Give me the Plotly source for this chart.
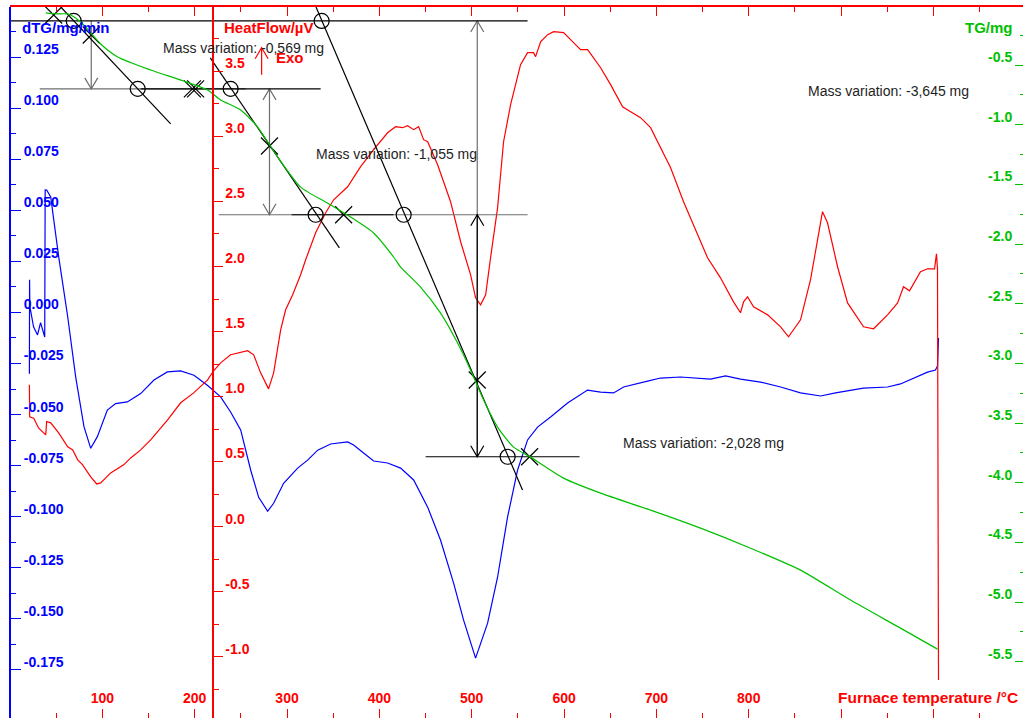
import plotly.graph_objects as go

FONT = "Liberation Sans, Arial, sans-serif"
RED, BLUE, GREEN = "#ff0000", "#0000ff", "#00c000"
INK, GREY = "#000000", "#6e6e6e"

# ---- figure geometry -------------------------------------------------------
FIG_W, FIG_H = 1023, 718
MARGIN = dict(l=10, r=0, t=7, b=0)
PLOT_W = FIG_W - MARGIN["l"] - MARGIN["r"]
PLOT_H = FIG_H - MARGIN["t"] - MARGIN["b"]

T_RANGE = [0, 1097]
DTG_RANGE = [-0.1985, 0.1495]
HF_RANGE = [-1.4715, 3.995]
TG_RANGE = [-5.972, -0.014]

# ---- measured curves -------------------------------------------------------
# derivative of mass, mg/min
dtg_T = [21.0, 21.2, 21.5, 25.5, 29.8, 33.1, 35.3, 37.6, 38.1, 39.7, 44.1, 52.7, 62.5, 71.1, 80.1, 87.4,
         94.6, 105.4, 114.4, 127.0, 141.5, 155.9, 170.4, 184.8, 199.2, 213.7, 228.1, 238.9, 249.8, 260.6,
         269.3, 279.0, 285.5, 296.3, 311.5, 322.3, 333.2, 347.2, 365.6, 372.1, 382.9, 393.8, 408.9, 423.0,
         437.1, 452.3, 466.3, 480.4, 491.2, 504.2, 517.2, 528.0, 538.8, 549.7, 560.5, 571.3, 585.4, 603.8,
         625.4, 639.6, 653.6, 664.5, 690.4, 704.5, 726.2, 758.6, 774.9, 791.1, 812.8, 834.5, 856.1, 877.8,
         894.0, 910.2, 924.3, 950.3, 964.3, 993.6, 1002.2, 1004.4, 1005.5]
dtg = [-0.030, 0.016, 0.003, -0.007, -0.011, -0.005, -0.009, -0.012, 0.060, 0.0599, 0.0565, 0.0273,
       -0.0021, -0.0315, -0.0559, -0.0665, -0.0608, -0.0478, -0.0446, -0.0438, -0.0397, -0.0331, -0.0291,
       -0.0286, -0.0307, -0.0356, -0.0413, -0.0487, -0.0575, -0.0771, -0.0905, -0.0973, -0.0934, -0.0836,
       -0.0762, -0.0723, -0.0674, -0.0644, -0.0634, -0.0649, -0.0688, -0.0727, -0.0737, -0.0762, -0.0820,
       -0.0953, -0.1115, -0.1325, -0.1506, -0.1692, -0.1521, -0.1296, -0.1002, -0.0771, -0.0624, -0.0561,
       -0.0512, -0.0443, -0.0380, -0.0390, -0.0394, -0.0365, -0.0336, -0.0321, -0.0316, -0.0326, -0.0311,
       -0.0326, -0.0341, -0.0365, -0.0394, -0.0409, -0.0394, -0.0380, -0.0370, -0.0365, -0.0350, -0.0292,
       -0.0282, -0.0262, -0.0125]

# heat flow, µV
hf_T = [21.0, 21.3, 25.7, 31.1, 38.7, 39.7, 44.1, 52.7, 62.5, 67.9, 73.3, 78.7, 87.4, 93.9, 98.2, 109.0,
        123.1, 130.7, 141.5, 152.3, 170.7, 184.8, 198.9, 214.0, 220.5, 228.1, 238.9, 257.4, 263.9, 271.4,
        280.0, 285.5, 293.1, 298.5, 306.1, 314.7, 320.2, 331.0, 341.8, 350.5, 365.6, 379.7, 393.8, 408.9,
        417.6, 425.2, 430.6, 437.1, 442.5, 447.9, 452.3, 463.1, 477.1, 488.0, 498.8, 504.2, 509.6, 515.1,
        520.4, 528.0, 534.5, 542.1, 552.9, 560.5, 567.0, 569.2, 574.6, 582.2, 588.7, 599.5, 610.3, 617.9,
        625.5, 639.6, 650.4, 663.4, 672.1, 682.9, 693.7, 704.5, 715.4, 729.4, 744.6, 755.4, 769.4, 783.5,
        791.1, 794.4, 798.7, 805.2, 820.4, 834.5, 843.1, 856.1, 866.9, 874.5, 879.9, 885.3, 896.2, 907.0,
        917.8, 924.3, 935.2, 950.3, 961.2, 967.6, 974.1, 986.0, 993.6, 1001.2, 1003.3, 1004.4, 1005.5]
hf = [1.09, 0.844, 0.834, 0.757, 0.705, 0.808, 0.798, 0.72, 0.613, 0.59, 0.513, 0.475, 0.383, 0.328,
      0.336, 0.413, 0.475, 0.528, 0.59, 0.667, 0.821, 0.952, 1.028, 1.128, 1.198, 1.259, 1.321, 1.352,
      1.321, 1.182, 1.059, 1.182, 1.513, 1.667, 1.782, 1.936, 2.052, 2.259, 2.413, 2.513, 2.613, 2.767,
      2.898, 3.028, 3.075, 3.067, 3.082, 3.052, 3.075, 2.975, 2.959, 2.782, 2.498, 2.19, 1.936, 1.759,
      1.705, 1.782, 2.067, 2.45, 2.959, 3.244, 3.552, 3.644, 3.644, 3.613, 3.728, 3.782, 3.805, 3.798,
      3.721, 3.667, 3.667, 3.528, 3.398, 3.228, 3.19, 3.144, 3.067, 2.913, 2.759, 2.498, 2.244, 2.067,
      1.913, 1.728, 1.644, 1.728, 1.767, 1.69, 1.628, 1.536, 1.459, 1.59, 1.898, 2.205, 2.421, 2.336,
      1.998, 1.72, 1.605, 1.536, 1.521, 1.628, 1.72, 1.844, 1.813, 1.959, 1.982, 1.982, 2.098, 1.982,
      -1.179]

# mass, mg
tg_T = [38.7, 49.5, 62.5, 71.1, 79.8, 98.2, 116.6, 152.3, 188.1, 214.0, 228.1, 249.8, 268.2, 289.8,
        314.7, 343.8, 368.8, 393.8, 415.4, 423.0, 444.6, 466.3, 484.7, 498.8, 512.9, 528.0, 545.3, 563.7,
        599.5, 639.6, 693.7, 747.8, 802.0, 856.1, 910.2, 964.3, 1004.4]
tg = [-0.064, -0.072, -0.072, -0.106, -0.165, -0.324, -0.433, -0.542, -0.634, -0.71, -0.793, -0.877,
      -1.02, -1.271, -1.523, -1.657, -1.774, -1.908, -2.109, -2.193, -2.361, -2.579, -2.83, -3.057,
      -3.308, -3.534, -3.702, -3.786, -3.962, -4.088, -4.23, -4.381, -4.549, -4.733, -4.984, -5.219,
      -5.395]

# ---- step analysis of the TG curve ------------------------------------------
mass_variation = [-0.569, -1.055, -2.028]
mass_variation_total = -3.645
tg_plateau_start = -0.131
plateaus = [tg_plateau_start]
for dm in mass_variation:
    plateaus.append(plateaus[-1] + dm)

inflection_T = [88.0, 281.0, 506.0]
inflection_TG = [-0.249, -1.179, -3.140]

tangent_T0 = [55.0, 216.9, 331.4]
tangent_TG0 = [-0.014, -0.441, -0.014]
tangent_T1 = [174.0, 356.7, 555.0]
tangent_TG1 = [-0.994, -2.033, -4.061]

baseline_level = [0, 1, 1, 2, 2, 3]
baseline_T0 = [0.0, 32.2, 141.5, 226.0, 305.0, 450.1]
baseline_T1 = [560.5, 255.2, 336.4, 560.5, 415.4, 616.8]
baseline_dark = [True, False, True, False, True, True]

onset_T = [69.0, 138.3, 238.9, 331.0, 337.5, 426.3, 538.9]
onset_level = [0, 1, 1, 2, 0, 2, 3]

limit_T = [47.3, 197.5, 201.0, 361.3, 562.7]
limit_TG = [-0.081, plateaus[1], plateaus[1], plateaus[2], plateaus[3]]

label_T = [163.0, 328.8, 661.2, 861.5]
label_TG = [-0.358, -1.246, -3.667, -0.718]
label_mass = mass_variation + [mass_variation_total]

# ---- axis ticks ---------------------------------------------------------------
t_ticks = [0, 100, 200, 300, 400, 500, 600, 700, 800, 900, 1000]
t_tick_text = ["", "100", "200", "300", "400", "500", "600", "700", "800", "", ""]
dtg_ticks = [0.125, 0.100, 0.075, 0.050, 0.025, 0.0, -0.025, -0.050, -0.075, -0.100, -0.125, -0.150, -0.175]
hf_ticks = [3.5, 3.0, 2.5, 2.0, 1.5, 1.0, 0.5, 0.0, -0.5, -1.0]
tg_ticks = [-0.5, -1.0, -1.5, -2.0, -2.5, -3.0, -3.5, -4.0, -4.5, -5.0, -5.5]

# pixel scales, used to size arrow heads
KX = PLOT_W / (T_RANGE[1] - T_RANGE[0])
K_TG = PLOT_H / (TG_RANGE[1] - TG_RANGE[0])
K_HF = PLOT_H / (HF_RANGE[1] - HF_RANGE[0])
HEAD_W, HEAD_H = 6.5, 11.0


def chevron(x, y, up, ky):
    dx, dy = HEAD_W / KX, HEAD_H / ky
    wing = y - dy if up else y + dy
    return [x - dx, x, x + dx, None], [wing, y, wing, None]


def fmt_mass(v):
    return f"Mass variation: {v:.3f} mg".replace(".", ",")


fig = go.Figure()

# step construction: plateaus, tangents, arrows
dark_x, dark_y, grey_x, grey_y = [], [], [], []
for lvl, t0, t1, dark in zip(baseline_level, baseline_T0, baseline_T1, baseline_dark):
    xs, ys = (dark_x, dark_y) if dark else (grey_x, grey_y)
    xs += [t0, t1, None]
    ys += [plateaus[lvl], plateaus[lvl], None]
for t0, g0, t1, g1 in zip(tangent_T0, tangent_TG0, tangent_T1, tangent_TG1):
    dark_x += [t0, t1, None]
    dark_y += [g0, g1, None]

arrows = [  # (T, from level, to level, head at start, head at end, dark)
    (inflection_T[0], 0, 1, False, True, False),
    (inflection_T[1], 1, 2, True, True, False),
    (inflection_T[2], 3, 0, False, True, False),
    (inflection_T[2], 2, 3, True, True, True),
]
for t, a, b, h0, h1, dark in arrows:
    xs, ys = (dark_x, dark_y) if dark else (grey_x, grey_y)
    ya, yb = plateaus[a], plateaus[b]
    xs += [t, t, None]
    ys += [ya, yb, None]
    for flag, y, other in ((h0, ya, yb), (h1, yb, ya)):
        if flag:
            cx, cy = chevron(t, y, y > other, K_TG)
            xs += cx
            ys += cy

fig.add_trace(go.Scatter(x=grey_x, y=grey_y, yaxis="y3", mode="lines",
                         line=dict(color=GREY, width=1.2), hoverinfo="skip"))
fig.add_trace(go.Scatter(x=dark_x, y=dark_y, yaxis="y3", mode="lines",
                         line=dict(color=INK, width=1.2), hoverinfo="skip"))

fig.add_trace(go.Scatter(x=onset_T, y=[plateaus[i] for i in onset_level], yaxis="y3", mode="markers",
                         marker=dict(symbol="circle-open", size=15, color=INK, line=dict(width=1.2)),
                         hoverinfo="skip"))
fig.add_trace(go.Scatter(x=limit_T + inflection_T, y=limit_TG + inflection_TG, yaxis="y3", mode="markers",
                         marker=dict(symbol="x-thin-open", size=17, color=INK, line=dict(width=1.2, color=INK)),
                         hoverinfo="skip"))

# curves
fig.add_trace(go.Scatter(x=tg_T, y=tg, yaxis="y3", mode="lines", name="TG",
                         line=dict(color=GREEN, width=1.2, shape="spline", smoothing=0.6)))
fig.add_trace(go.Scatter(x=dtg_T, y=dtg, yaxis="y", mode="lines", name="dTG",
                         line=dict(color=BLUE, width=1.2)))
fig.add_trace(go.Scatter(x=hf_T, y=hf, yaxis="y2", mode="lines", name="HeatFlow",
                         line=dict(color=RED, width=1.2)))

# exo direction arrow
exo_T, exo_lo, exo_hi = 272.5, 3.475, 3.682
ex, ey = chevron(exo_T, exo_hi, True, K_HF)
fig.add_trace(go.Scatter(x=[exo_T, exo_T, None] + ex, y=[exo_lo, exo_hi, None] + ey, yaxis="y2",
                         mode="lines", line=dict(color=RED, width=1.2), hoverinfo="skip"))

tick_font = lambda c: dict(family=FONT, size=14, color=c, weight="bold")


def y_axis(color, vals, fmt, minor_step, ticklen, minor_len, **kw):
    return dict(
        showline=True, linecolor=color, linewidth=2,
        ticks="outside", ticklen=ticklen, tickwidth=1, tickcolor=color,
        tickmode="array", tickvals=vals, ticktext=[fmt.format(v) for v in vals],
        tickfont=tick_font(color), ticklabelshift=-8,
        minor=dict(dtick=minor_step, tick0=0, ticks="outside", ticklen=minor_len, tickcolor=color, tickwidth=1),
        showgrid=False, zeroline=False, anchor="free", **kw)


fig.update_layout(
    width=FIG_W, height=FIG_H, margin=MARGIN, autosize=False,
    paper_bgcolor="white", plot_bgcolor="white", showlegend=False,
    font=dict(family=FONT),
    xaxis=dict(domain=[0, 1], range=T_RANGE, anchor="y", side="bottom",
               showline=True, linecolor=RED, linewidth=2, mirror="ticks",
               ticks="inside", ticklen=9, tickwidth=1, tickcolor=RED,
               tickmode="array", tickvals=t_ticks, ticktext=t_tick_text,
               ticklabelposition="inside", ticklabelstandoff=3, tickfont=tick_font(RED),
               minor=dict(dtick=50, tick0=0, ticks="inside", ticklen=5, tickcolor=RED, tickwidth=1),
               showgrid=False, zeroline=False),
    yaxis=y_axis(BLUE, dtg_ticks, "{:.3f}", 0.0125, 10, 5, range=DTG_RANGE, side="right", position=0.0),
    yaxis2=y_axis(RED, hf_ticks, "{:.1f}", 0.25, 9, 5, range=HF_RANGE, side="right",
                  position=(212.5 - MARGIN["l"]) / PLOT_W, overlaying="y"),
    yaxis3=y_axis(GREEN, tg_ticks, "{:.1f}", 0.25, 8, 3, range=TG_RANGE, side="left",
                  position=1.0, overlaying="y"),
)
fig.layout.yaxis3.showline = False


def px_to_paper(px, py):
    return (px - MARGIN["l"]) / PLOT_W, (FIG_H - MARGIN["b"] - py) / PLOT_H


title_font = lambda c, s=15: dict(family=FONT, size=s, color=c, weight="bold")
for text, color, px, py, anchor, size in [
    ("dTG/mg/min", BLUE, 20, 27, "left", 15),
    ("HeatFlow/µV", RED, 222, 27, "left", 15),
    ("TG/mg", GREEN, 1015, 27, "right", 15),
    ("Furnace temperature /°C", RED, 1020, 697, "right", 15.5),
]:
    ax_, ay_ = px_to_paper(px, py)
    fig.add_annotation(x=ax_, y=ay_, xref="paper", yref="paper", text=text, showarrow=False,
                       xanchor=anchor, yanchor="middle", font=title_font(color, size))

for t, g, v in zip(label_T, label_TG, label_mass):
    fig.add_annotation(x=t, y=g, xref="x", yref="y3", text=fmt_mass(v), showarrow=False,
                       xanchor="left", yanchor="middle", font=dict(family=FONT, size=14, color="#1e1e1e"))

fig.add_annotation(x=285.5, y=3.605, xref="x", yref="y2", text="Exo", showarrow=False,
                   xanchor="left", yanchor="middle", font=title_font(RED))

fig.write_html("out.html")
